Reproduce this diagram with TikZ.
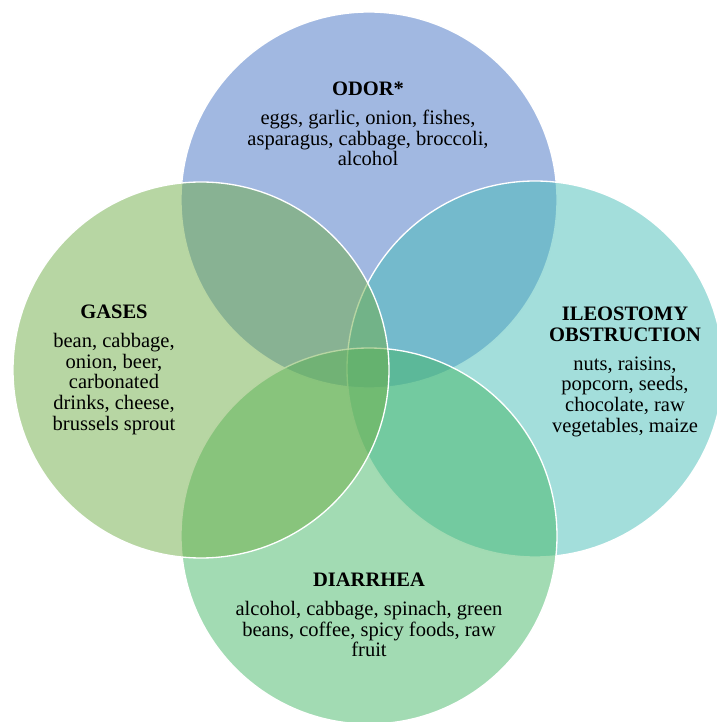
\documentclass[tikz,border=0pt]{standalone}
\usepackage{fontspec}
\setmainfont{Liberation Serif}
\usetikzlibrary{positioning}

\definecolor{odorblue}{HTML}{4472C4}
\definecolor{gasgreen}{HTML}{70AD47}
\definecolor{ileoteal}{HTML}{47BDB7}
\definecolor{diargreen}{HTML}{45B767}

\tikzset{
  venn/.style={circle, minimum size=282pt, inner sep=0pt, draw=white,
    line width=1pt, fill opacity=0.5},
  venntext/.style={align=center, inner sep=0pt, anchor=north,
    font=\fontsize{15.4}{15.4}\selectfont}
}

\begin{document}
\begin{tikzpicture}[x=0.75pt, y=0.75pt]
  \useasboundingbox (0,0) rectangle (717,722);
  \clip (0,0) rectangle (717,722);
  % the four circles, clockwise from the top
  \node[venn, fill=odorblue] (odor) at (369,522) {};
  \node[venn, fill=ileoteal] (ileo) at (535,353) {};
  \node[venn, fill=diargreen] (diarrhea) at (369,186) {};
  \node[venn, fill=gasgreen] (gases) at (201,352) {};
  % texts
  \node[venntext] (odortext) at (368,640)
    {\textbf{ODOR*}\\[6.4pt]eggs, garlic, onion, fishes,\\asparagus, cabbage, broccoli,\\alcohol};
  \node[venntext] (gastext) at (114,417)
    {\textbf{GASES}\\[6.4pt]bean, cabbage,\\onion, beer,\\carbonated\\drinks, cheese,\\brussels sprout};
  \node[venntext] (ileotext) at (625,415)
    {\textbf{ILEOSTOMY}\\\textbf{OBSTRUCTION}\\[6.4pt]nuts, raisins,\\popcorn, seeds,\\chocolate, raw\\vegetables, maize};
  \node[venntext] (diartext) at (369,149)
    {\textbf{DIARRHEA}\\[6.4pt]alcohol, cabbage, spinach, green\\beans, coffee, spicy foods, raw\\fruit};
\end{tikzpicture}
\end{document}
